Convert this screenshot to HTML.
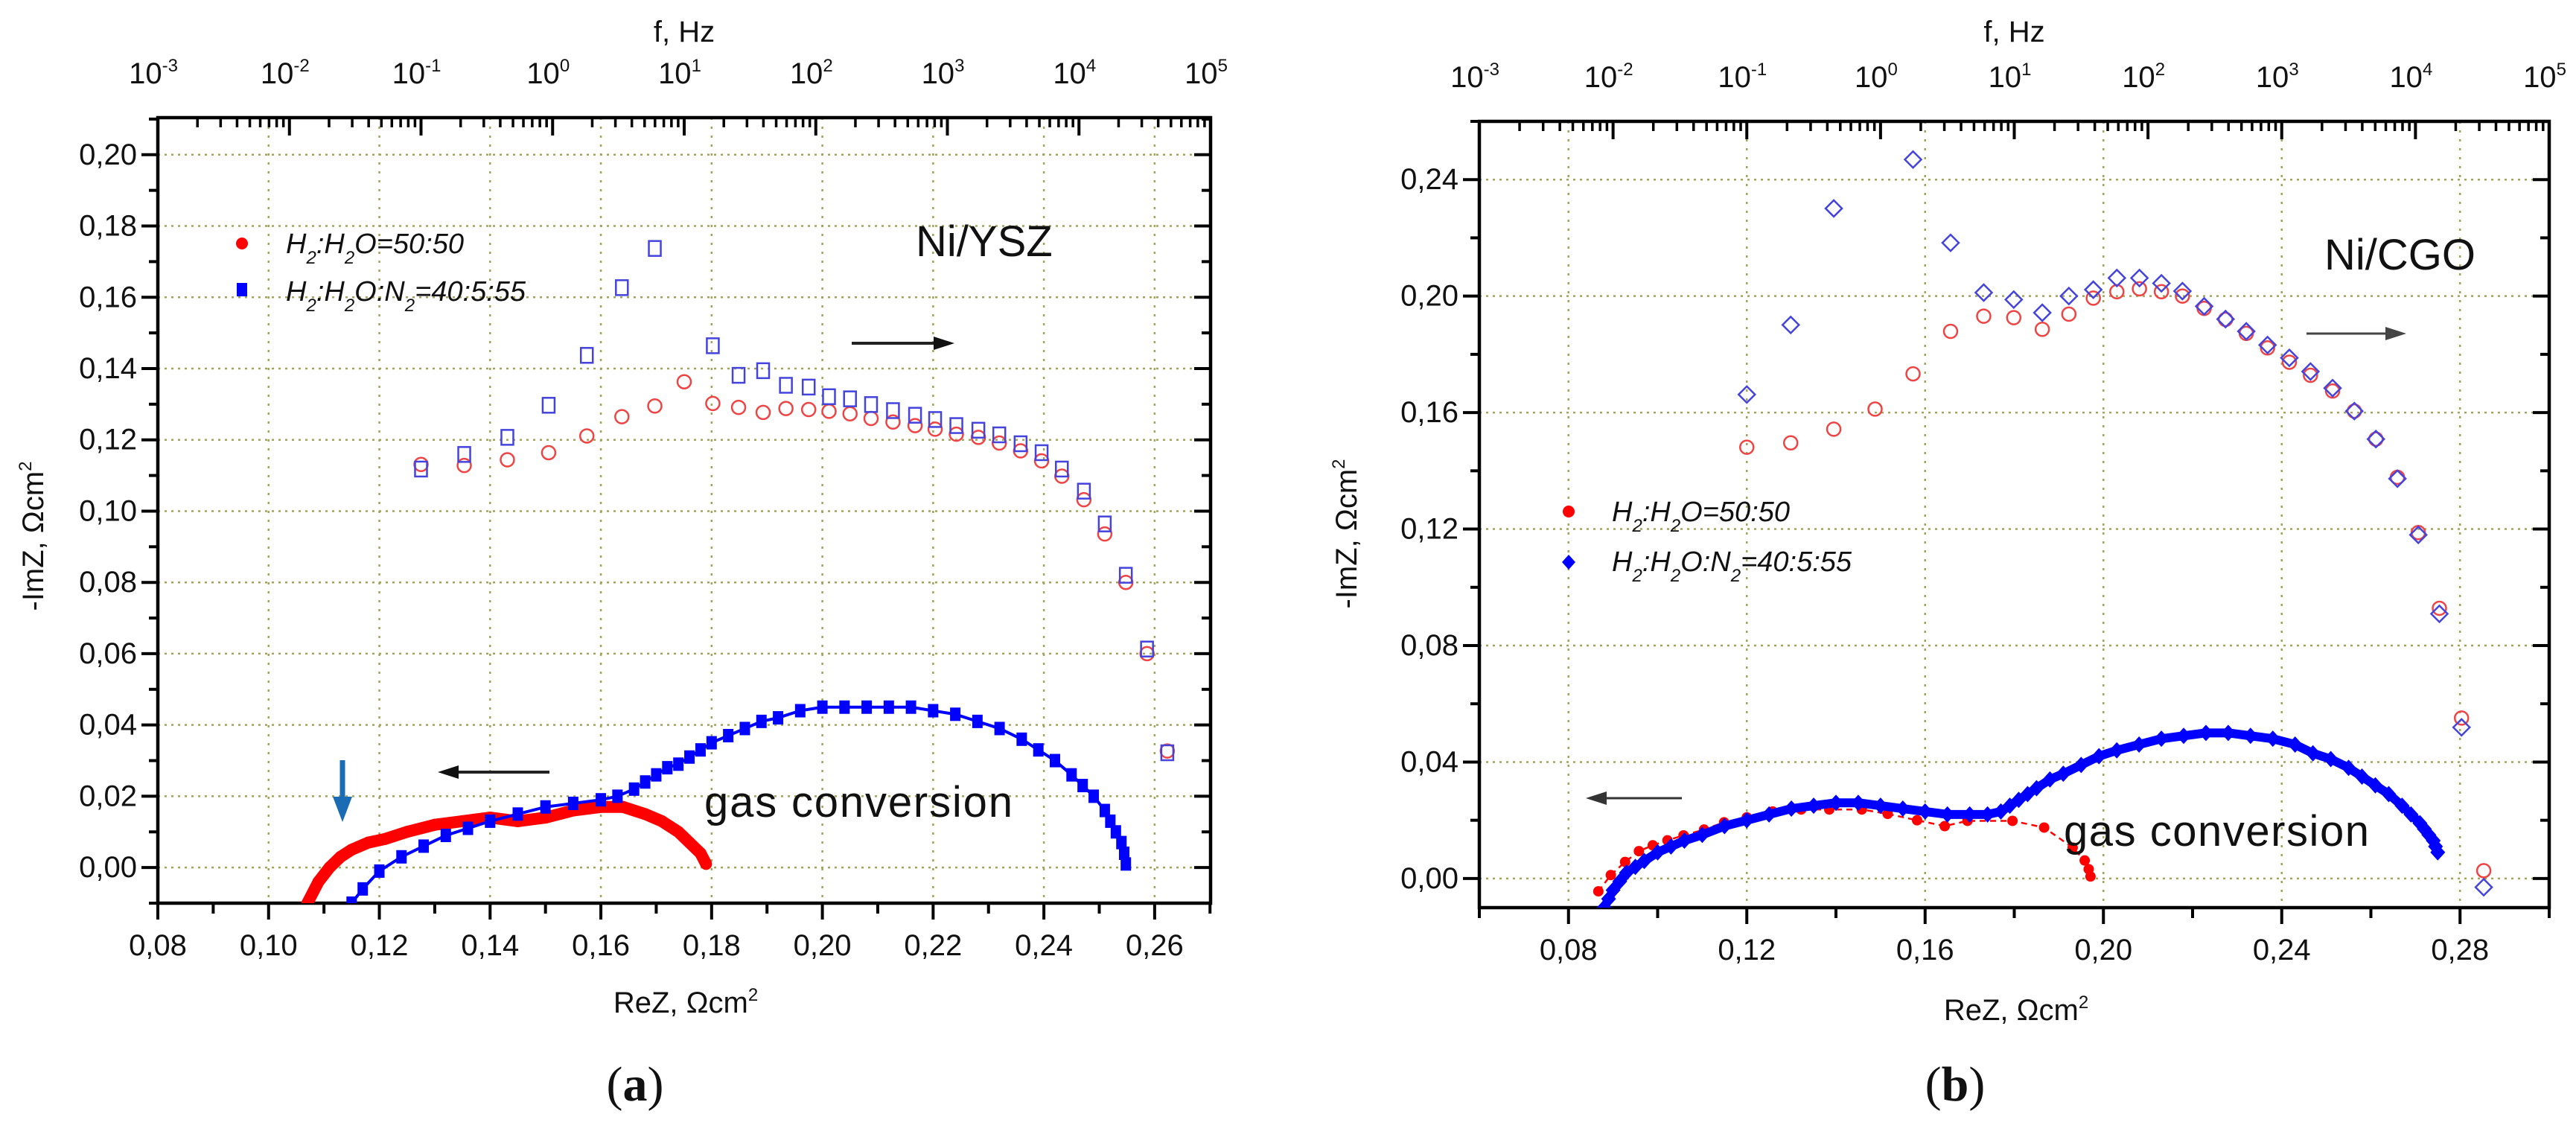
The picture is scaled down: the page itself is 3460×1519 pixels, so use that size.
<!DOCTYPE html>
<html><head><meta charset="utf-8">
<style>
html,body{margin:0;padding:0;background:#fff;}
svg{display:block;}
text{font-family:"Liberation Sans",sans-serif;fill:#111;}
text.serif{font-family:"Liberation Serif",serif;}
</style></head>
<body>
<svg id="fig" width="3460" height="1519" viewBox="0 0 3460 1519" xmlns="http://www.w3.org/2000/svg"></svg>
<script>
// ===== Panel (a) data: Ni/YSZ =====
const aReTicks = [0.08,0.10,0.12,0.14,0.16,0.18,0.20,0.22,0.24,0.26];
const aImTicks = [0.00,0.02,0.04,0.06,0.08,0.10,0.12,0.14,0.16,0.18,0.20];
const aRedRe = [0.107,0.109,0.111,0.113,0.115,0.118,0.121,0.125,0.130,0.135,0.140,0.145,0.150,0.155,0.160,0.164,0.168,0.171,0.174,0.176,0.178,0.179];
const aRedIm = [-0.010,-0.004,0.000,0.003,0.005,0.007,0.008,0.010,0.012,0.013,0.014,0.013,0.014,0.016,0.017,0.017,0.015,0.013,0.010,0.007,0.004,0.001];
const aBlueRe = [0.115,0.117,0.120,0.124,0.128,0.132,0.136,0.140,0.145,0.150,0.155,0.160,0.163,0.166,0.168,0.170,0.172,0.174,0.176,0.178,0.180,0.183,0.186,0.189,0.192,0.196,0.200,0.204,0.208,0.212,0.216,0.220,0.224,0.228,0.232,0.236,0.239,0.242,0.245,0.247,0.249,0.251,0.252,0.253,0.254,0.2545,0.2548];
const aBlueIm = [-0.010,-0.006,-0.001,0.003,0.006,0.009,0.011,0.013,0.015,0.017,0.018,0.019,0.020,0.022,0.024,0.026,0.028,0.029,0.031,0.033,0.035,0.037,0.039,0.041,0.042,0.044,0.045,0.045,0.045,0.045,0.045,0.044,0.043,0.041,0.039,0.036,0.033,0.030,0.026,0.023,0.020,0.016,0.013,0.010,0.007,0.004,0.001];
const aFreqRed = [0.1,0.213,0.453,0.933,1.82,3.36,5.98,10,16.5,25.9,39.8,59.3,88.3,126,182,263,386,568,807,1170,1720,2480,3600,5200,7410,10900,15700,22700,32900,46900];
const aImFreqRed = [0.1131,0.1128,0.1144,0.1164,0.1211,0.1265,0.1295,0.1363,0.1302,0.1291,0.1277,0.1288,0.1285,0.1280,0.1273,0.1260,0.1250,0.1240,0.1230,0.1216,0.1207,0.1191,0.1169,0.1141,0.1098,0.1032,0.0936,0.0800,0.0600,0.0327];
const aFreqBlue = [0.1,0.213,0.453,0.933,1.82,3.36,5.98,16.5,25.9,39.8,59.3,88.3,126,182,263,386,568,807,1170,1720,2480,3600,5200,7410,10900,15700,22700,32900,46900];
const aImFreqBlue = [0.1118,0.1159,0.1207,0.1297,0.1437,0.1627,0.1737,0.1464,0.1381,0.1394,0.1353,0.1348,0.1321,0.1315,0.1299,0.1282,0.1269,0.1257,0.1240,0.1227,0.1214,0.1189,0.1164,0.1118,0.1056,0.0964,0.0820,0.0613,0.0322];

// ===== Panel (b) data: Ni/CGO =====
const bReTicks = [0.08,0.12,0.16,0.20,0.24,0.28];
const bImTicks = [0.00,0.04,0.08,0.12,0.16,0.20,0.24];
const bRedRe = [0.0867,0.0895,0.0927,0.0958,0.0989,0.1022,0.1058,0.1104,0.1149,0.1200,0.1258,0.1322,0.1385,0.1458,0.1516,0.1582,0.1644,0.1695,0.1796,0.1867,0.1931,0.1958,0.1967,0.1971];
const bRedIm = [-0.0044,0.0012,0.0057,0.0094,0.0114,0.0131,0.0148,0.0168,0.0193,0.0210,0.0230,0.0237,0.0237,0.0237,0.0222,0.0200,0.0180,0.0198,0.0198,0.0175,0.0106,0.0062,0.0032,0.0007];
const bBlueRe = [0.088,0.089,0.090,0.0915,0.093,0.095,0.097,0.100,0.103,0.106,0.110,0.115,0.120,0.125,0.130,0.135,0.140,0.145,0.150,0.155,0.160,0.165,0.170,0.174,0.177,0.179,0.181,0.183,0.185,0.188,0.191,0.195,0.199,0.203,0.208,0.213,0.218,0.223,0.228,0.233,0.238,0.243,0.247,0.251,0.255,0.258,0.261,0.264,0.267,0.269,0.271,0.272,0.273,0.274,0.2745,0.275];
const bBlueIm = [-0.010,-0.007,-0.004,-0.001,0.002,0.004,0.006,0.009,0.011,0.013,0.015,0.018,0.020,0.022,0.024,0.025,0.026,0.026,0.025,0.024,0.023,0.022,0.022,0.022,0.023,0.025,0.027,0.029,0.031,0.034,0.036,0.039,0.042,0.044,0.046,0.048,0.049,0.050,0.050,0.049,0.048,0.046,0.043,0.041,0.038,0.035,0.032,0.029,0.025,0.022,0.019,0.017,0.015,0.013,0.011,0.009];
const bFreqRed = [0.1,0.213,0.447,0.910,1.75,3.34,5.91,9.91,16.2,25.6,39.0,58.5,86.3,126,181,263,380,543,783,1140,1640,2400,3490,5060,7330,10500,15100,22100,32400];
const bImFreqRed = [0.1481,0.1496,0.1543,0.1612,0.1733,0.1879,0.1931,0.1926,0.1886,0.1938,0.1993,0.2015,0.2025,0.2015,0.2000,0.1958,0.1920,0.1872,0.1822,0.1773,0.1728,0.1674,0.1605,0.1509,0.1378,0.1188,0.0928,0.0551,0.0027];
const bFreqBlue = [0.1,0.213,0.447,1.75,3.34,5.91,9.91,16.2,25.6,39.0,58.5,86.3,126,181,263,380,543,783,1140,1640,2400,3490,5060,7330,10500,15100,22100,32400];
const bImFreqBlue = [0.1662,0.1901,0.2301,0.2469,0.2183,0.2012,0.1988,0.1943,0.2000,0.2022,0.2062,0.2062,0.2044,0.2017,0.1965,0.1921,0.1879,0.1832,0.1788,0.1741,0.1684,0.1605,0.1509,0.1373,0.1180,0.0909,0.0519,-0.0030];

const NS = "http://www.w3.org/2000/svg";
const svg = document.getElementById('fig');
function mk(tag, attrs, parent){
  const e = document.createElementNS(NS, tag);
  for (const k in attrs) e.setAttribute(k, attrs[k]);
  (parent||svg).appendChild(e);
  return e;
}
function fmt(v, d){ return v.toFixed(d).replace('.', ','); }

function drawPanel(P){
  const g = mk('g', {});
  
  
  const X = v => P.L + (v - P.x0)/(P.x1 - P.x0)*(P.R - P.L);
  const Y = v => P.B - (v - P.y0)/(P.y1 - P.y0)*(P.B - P.T);
  const XF = f => P.L + (Math.log10(f) + 3)/8*(P.R - P.L);
  const grid = '#a3a35a';
  P.xTicks.forEach(v => {
    const l = mk('line', {x1:X(v),x2:X(v),y1:P.T,y2:P.B,stroke:grid,'stroke-width':2.5,'stroke-dasharray':'3 9'}, g);
    
    
  });
  P.yTicks.forEach(v => {
    const l = mk('line', {x1:P.L,x2:P.R,y1:Y(v),y2:Y(v),stroke:grid,'stroke-width':2.5,'stroke-dasharray':'3 6'}, g);
    
    
  });
  const fr = mk('rect', {x:P.L,y:P.T,width:P.R-P.L,height:P.B-P.T,fill:'none',stroke:'#000','stroke-width':4.5}, g);
  
  
  for (let v = P.x0; v <= P.x1 + 1e-9; v += P.xMinor){
    const isMaj = P.xTicks.some(t => Math.abs(t - v) < 1e-6);
    mk('line', {x1:X(v),x2:X(v),y1:P.B,y2:P.B + (isMaj?22:14),stroke:'#000','stroke-width':4}, g);
  }
  P.xTicks.forEach(v => {
    const t = mk('text', {x:X(v),y:P.B+70,'font-size':P.fs,'text-anchor':'middle'}, g);
    t.textContent = fmt(v,2);
    
    
  });
  for (let v = P.yMinStart; v <= P.y1 + 1e-9; v += P.yMinor){
    const isMaj = P.yTicks.some(t => Math.abs(t - v) < 1e-6);
    mk('line', {x1:P.L - (isMaj?22:12),x2:P.L,y1:Y(v),y2:Y(v),stroke:'#000','stroke-width':4}, g);
    mk('line', {x1:P.R - (isMaj?22:12),x2:P.R,y1:Y(v),y2:Y(v),stroke:'#000','stroke-width':4}, g);
  }
  P.yTicks.forEach(v => {
    const t = mk('text', {x:P.L-28,y:Y(v)+13,'font-size':P.fs,'text-anchor':'end'}, g);
    t.textContent = fmt(v,2);
    
    
  });
  for (let d = -3; d <= 5; d++){
    const x = XF(Math.pow(10,d));
    mk('line', {x1:x,x2:x,y1:P.T,y2:P.T+24,stroke:'#000','stroke-width':4}, g);
    const t = mk('text', {x:x-6,y:P.T-46,'font-size':P.fs,'text-anchor':'middle'}, g);
    
    
    t.textContent = '10';
    const s = mk('tspan', {dy:-16,'font-size':P.fs*0.6}, t);
    s.textContent = String(d);
    if (d < 5) for (let m = 2; m <= 9; m++){
      const xm = XF(m*Math.pow(10,d));
      mk('line', {x1:xm,x2:xm,y1:P.T,y2:P.T+13,stroke:'#000','stroke-width':3.5}, g);
    }
  }
  const ft = mk('text', {x:(P.L+P.R)/2,y:56,'font-size':P.fs,'text-anchor':'middle'}, g);
  ft.textContent = 'f, Hz';
  
  
  const xt = mk('text', {x:P.xtX,y:P.xtY,'font-size':P.fs,'text-anchor':'middle'}, g);
  xt.textContent = 'ReZ, Ωcm';
  const xs = mk('tspan', {dy:-16,'font-size':P.fs*0.6}, xt); xs.textContent='2';
  
  
  const yt = mk('text', {x:0,y:0,'font-size':P.fs,'text-anchor':'middle',transform:`translate(${P.ytX},${P.ytY}) rotate(-90)`}, g);
  yt.textContent = '-ImZ, Ωcm';
  const ys = mk('tspan', {dy:-16,'font-size':P.fs*0.6}, yt); ys.textContent='2';
  
  

  const cid = 'clip'+P.name;
  const cp = mk('clipPath', {id:cid}, g);
  mk('rect', {x:P.L,y:P.T,width:P.R-P.L,height:P.B-P.T}, cp);
  const pg = mk('g', {'clip-path':`url(#${cid})`}, g);

  P.fr.forEach((f,i) => {
    const c = mk('circle', {cx:XF(f),cy:Y(P.frI[i]),r:9,fill:'none',stroke:'#ee4444','stroke-width':2.5}, pg);
    
    
  });
  P.fb.forEach((f,i) => {
    const x = XF(f), y = Y(P.fbI[i]);
    let m;
    if (P.blueShape === 'square') m = mk('rect', {x:x-8,y:y-10,width:16,height:20,fill:'none',stroke:'#4444dd','stroke-width':2.5}, pg);
    else m = mk('polygon', {points:`${x},${y-11} ${x+11},${y} ${x},${y+11} ${x-11},${y}`,fill:'none',stroke:'#4444dd','stroke-width':2.5}, pg);
    
    
  });
  const rp = mk('polyline', {points:P.rRe.map((v,i)=>X(v)+','+Y(P.rIm[i])).join(' '),fill:'none',stroke:'#ff0000','stroke-width':P.redLine,'stroke-dasharray':P.redDash||'none','stroke-linejoin':'round'}, pg);
  
  
  P.rRe.forEach((v,i) => {
    const c = mk('circle', {cx:X(v),cy:Y(P.rIm[i]),r:P.redR,fill:'#ff0000'}, pg);
    
    
  });
  const bp = mk('polyline', {points:P.bRe.map((v,i)=>X(v)+','+Y(P.bIm[i])).join(' '),fill:'none',stroke:'#0000ff','stroke-width':P.blueLine,'stroke-linejoin':'round'}, pg);
  
  
  P.bRe.forEach((v,i) => {
    const x = X(v), y = Y(P.bIm[i]);
    let m;
    if (P.blueShape === 'square') m = mk('rect', {x:x-7,y:y-9,width:14,height:18,fill:'#0000ff'}, pg);
    else m = mk('polygon', {points:`${x},${y-11} ${x+10},${y} ${x},${y+11} ${x-10},${y}`,fill:'#0000ff'}, pg);
    
    
  });
  return {X,Y,g};
}

drawPanel({name:'panel-a', L:212, R:1626, T:158, B:1213, x0:0.08, x1:0.2701, y0:-0.01, y1:0.2104,
  xTicks:aReTicks, yTicks:aImTicks, xMinor:0.01, yMinor:0.01, yMinStart:-0.01, fs:40,
  xtX:921, xtY:1360, ytX:58, ytY:720,
  fr:aFreqRed, frI:aImFreqRed, fb:aFreqBlue, fbI:aImFreqBlue, blueShape:'square',
  rRe:aRedRe, rIm:aRedIm, bRe:aBlueRe, bIm:aBlueIm, redLine:16, redR:8, blueLine:4});
drawPanel({name:'panel-b', L:1987, R:3424, T:163, B:1219, x0:0.06, x1:0.30, y0:-0.01, y1:0.26,
  xTicks:bReTicks, yTicks:bImTicks, xMinor:0.02, yMinor:0.02, yMinStart:0.0, fs:40,
  xtX:2708, xtY:1370, ytX:1822, ytY:717,
  fr:bFreqRed, frI:bImFreqRed, fb:bFreqBlue, fbI:bImFreqBlue, blueShape:'diamond',
  rRe:bRedRe, rIm:bRedIm, bRe:bBlueRe, bIm:bBlueIm, redLine:2.5, redDash:'8 6', redR:7, blueLine:12});

function txt(x,y,s,fs,attrs,name){
  const t = mk('text', Object.assign({x:x,y:y,'font-size':fs}, attrs||{}));
  t.textContent = s;
  
  
  return t;
}
function legendText(x,y,parts,name){
  const t = mk('text', {x:x,y:y,'font-size':38,'font-style':'italic'});
  
  
  parts.forEach(p => {
    const s = mk('tspan', p[1] ? {'font-size':24,dy:14} : {dy:p[2]||0}, t);
    s.textContent = p[0];
  });
}
function arrow(x1,x2,y,name,color,w){
  const g = mk('g', {});
  
  
  const dir = Math.sign(x2-x1);
  mk('line', {x1:x1,x2:x2-dir*24,y1:y,y2:y,stroke:color||'#222','stroke-width':w||4}, g);
  mk('polygon', {points:`${x2},${y} ${x2-dir*28},${y-9} ${x2-dir*28},${y+9}`,fill:color||'#111'}, g);
}
function panelLabel(cx,y,letter,name){
  const t = mk('text', {x:cx,y:y,'font-size':66,'text-anchor':'middle','class':'serif'});
  
  
  const a = mk('tspan', {}, t); a.textContent = '(';
  const b = mk('tspan', {'font-weight':'bold'}, t); b.textContent = letter;
  const c = mk('tspan', {}, t); c.textContent = ')';
}

// Panel (a) annotations
let c = mk('circle', {cx:325,cy:327,r:8,fill:'#ff0000'});
 
legendText(384,340,[['H'],['2',1],[':H',0,-14],['2',1],['O=50:50',0,-14]],'legend-entry-red');
c = mk('rect', {x:318,y:380,width:14,height:18,fill:'#0000ff'});
 
legendText(384,404,[['H'],['2',1],[':H',0,-14],['2',1],['O:N',0,-14],['2',1],['=40:5:55',0,-14]],'legend-entry-blue');
txt(1230,344,'Ni/YSZ',58,{},'sample-label-a');
arrow(1144,1282,461,'arrow-right-a');
arrow(738,588,1037,'arrow-left-a');
const da = mk('g', {});  
mk('line', {x1:460,x2:460,y1:1021,y2:1085,stroke:'#1a6db5','stroke-width':7}, da);
mk('polygon', {points:'460,1104 447,1070 473,1070',fill:'#1a6db5'}, da);
txt(946,1097,'gas conversion',58,{textLength:414},'gas-conversion-label-a');
panelLabel(853,1478,'a','panel-label-a');

// Panel (b) annotations
c = mk('circle', {cx:2107,cy:687,r:8,fill:'#ff0000'});
 
legendText(2165,700,[['H'],['2',1],[':H',0,-14],['2',1],['O=50:50',0,-14]],'legend-entry-red-b');
c = mk('polygon', {points:'2107,745 2116,755 2107,765 2098,755',fill:'#0000ff'});
 
legendText(2165,767,[['H'],['2',1],[':H',0,-14],['2',1],['O:N',0,-14],['2',1],['=40:5:55',0,-14]],'legend-entry-blue-b');
txt(3122,362,'Ni/CGO',58,{},'sample-label-b');
arrow(3098,3232,448,'arrow-right-b','#444',3);
arrow(2259,2130,1072,'arrow-left-b','#333',3);
txt(2772,1136,'gas conversion',58,{textLength:410},'gas-conversion-label-b');
panelLabel(2626,1478,'b','panel-label-b');
</script>
</body></html>
